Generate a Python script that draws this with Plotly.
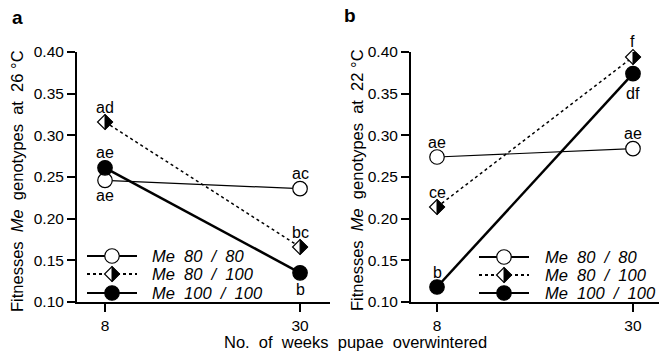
import plotly.graph_objects as go

weeks = [8, 30]
x_ticklabels = ["8", "30"]
y_ticks = [0.10, 0.15, 0.20, 0.25, 0.30, 0.35, 0.40]

series_names = ["Me  80  /  80", "Me  80  /  100", "Me  100  /  100"]

# Panel a (26 °C)
a_80_80 = [0.246, 0.236]
a_80_100 = [0.316, 0.166]
a_100_100 = [0.261, 0.135]
a_lbl_80_80 = ["ae", "ac"]
a_lbl_80_100 = ["ad", "bc"]
a_lbl_100_100 = ["ae", "b"]
a_pos_80_80 = [-1, 1]      # -1 below, 1 above
a_pos_80_100 = [1, 1]
a_pos_100_100 = [1, -1.1]

# Panel b (22 °C)
b_80_80 = [0.274, 0.284]
b_80_100 = [0.214, 0.394]
b_100_100 = [0.118, 0.374]
b_lbl_80_80 = ["ae", "ae"]
b_lbl_80_100 = ["ce", "f"]
b_lbl_100_100 = ["b", "df"]
b_pos_80_80 = [1, 1]
b_pos_80_100 = [1, 1]
b_pos_100_100 = [1, -1.3]

FONT = "Liberation Sans, Arial, Helvetica, sans-serif"
W, H = 659, 352
CIRC = 14.5
DIAM = 11.5
RD = 1.3 * DIAM / 2

line_styles = [dict(color="black", width=1.2),
               dict(color="black", width=1.5, dash="3px,3px"),
               dict(color="black", width=2.5)]
marker_styles = [dict(symbol="circle", size=CIRC, color="white", line=dict(color="black", width=1.2)),
                 dict(symbol="diamond", size=DIAM, color="white", line=dict(color="black", width=1.2)),
                 dict(symbol="circle", size=CIRC, color="black", line=dict(color="black", width=1.2))]

fig = go.Figure()

panels = [
    ("x", "y", [a_80_80, a_80_100, a_100_100],
     [a_lbl_80_80, a_lbl_80_100, a_lbl_100_100], [a_pos_80_80, a_pos_80_100, a_pos_100_100]),
    ("x2", "y2", [b_80_80, b_80_100, b_100_100],
     [b_lbl_80_80, b_lbl_80_100, b_lbl_100_100], [b_pos_80_80, b_pos_80_100, b_pos_100_100]),
]

annotations = []
shapes = []


def half_diamond(xref, yref, xv, yv):
    return dict(type="path", xref=xref, yref=yref, xsizemode="pixel", ysizemode="pixel",
                xanchor=xv, yanchor=yv, path=f"M0,{-RD} L{RD},0 L0,{RD} Z",
                fillcolor="black", line=dict(color="black", width=1))


for xa, ya, vals, lbls, poss in panels:
    for name, v, ls, ms in zip(series_names, vals, line_styles, marker_styles):
        fig.add_trace(go.Scatter(x=weeks, y=v, mode="lines+markers", name=name,
                                 xaxis=xa, yaxis=ya, cliponaxis=False, showlegend=False,
                                 line=ls, marker=ms))
    for xv, yv in zip(weeks, vals[1]):
        shapes.append(half_diamond(xa, ya, xv, yv))
    for v, lb, ps in zip(vals, lbls, poss):
        for xv, yv, t, p in zip(weeks, v, lb, ps):
            annotations.append(dict(x=xv, y=yv, xref=xa, yref=ya, text=t, showarrow=False,
                                    yshift=15 * p, font=dict(size=16, family=FONT, color="black")))

# hand-drawn keys (legend) inside each panel
legend_specs = [
    dict(x0=87, x1=137, xm=112, xt=150, rows=[256, 274, 293]),
    dict(x0=479, x1=529, xm=504, xt=543, rows=[257, 275, 293]),
]
key_line_styles = [dict(color="black", width=1.8),
                   dict(color="black", width=1.8, dash="3px,3px"),
                   dict(color="black", width=1.8)]
for spec in legend_specs:
    for i, name in enumerate(series_names):
        ry = 1 - spec["rows"][i] / H
        shapes.append(dict(type="line", xref="paper", yref="paper", x0=spec["x0"] / W, x1=spec["x1"] / W,
                           y0=ry, y1=ry, line=key_line_styles[i], layer="above"))
        xm = spec["xm"] / W
        if i == 1:
            shapes.append(dict(type="path", xref="paper", yref="paper", xsizemode="pixel", ysizemode="pixel",
                               xanchor=xm, yanchor=ry,
                               path=f"M0,{-RD} L{RD},0 L0,{RD} L{-RD},0 Z",
                               fillcolor="white", line=dict(color="black", width=1.2), layer="above"))
            shapes.append(dict(type="path", xref="paper", yref="paper", xsizemode="pixel", ysizemode="pixel",
                               xanchor=xm, yanchor=ry, path=f"M0,{-RD} L{RD},0 L0,{RD} Z",
                               fillcolor="black", line=dict(color="black", width=1), layer="above"))
        else:
            r = CIRC / 2
            shapes.append(dict(type="circle", xref="paper", yref="paper", xsizemode="pixel", ysizemode="pixel",
                               xanchor=xm, yanchor=ry, x0=-r, x1=r, y0=-r, y1=r,
                               fillcolor="white" if i == 0 else "black",
                               line=dict(color="black", width=1.2), layer="above"))
        annotations.append(dict(text=f"<i>{name}</i>", x=spec["xt"] / W, y=ry, xref="paper", yref="paper",
                                xanchor="left", yanchor="middle", showarrow=False,
                                font=dict(size=16.5, family=FONT, color="black")))

axis_common = dict(showline=True, linewidth=2, linecolor="black", ticks="outside",
                   ticklen=8, tickwidth=2, tickcolor="black", showgrid=False, zeroline=False,
                   automargin=False, tickfont=dict(size=15.5, family=FONT, color="black"))

fig.update_layout(
    width=W, height=H, margin=dict(l=0, r=0, t=0, b=0, autoexpand=False),
    paper_bgcolor="white", plot_bgcolor="white",
    font=dict(family=FONT, size=15.5, color="black"),
    showlegend=False,
    xaxis=dict(domain=[77 / W, 330 / W], range=[4.84, 33.38], tickvals=weeks, ticktext=x_ticklabels,
               anchor="y", **axis_common),
    yaxis=dict(domain=[50 / H, 300 / H], range=[0.10, 0.40], tickvals=y_ticks, tickformat=".2f",
               anchor="x", **axis_common),
    xaxis2=dict(domain=[411 / W, 1.0], range=[5.08, 32.92], tickvals=weeks, ticktext=x_ticklabels,
                anchor="y2", **axis_common),
    yaxis2=dict(domain=[50 / H, 300 / H], range=[0.10, 0.40], tickvals=y_ticks, tickformat=".2f",
                anchor="x2", **axis_common),
    annotations=annotations + [
        dict(text="Fitnesses  <i>Me</i>  genotypes  at  26 °C", x=17 / W, y=1 - 181 / H, xref="paper",
             yref="paper", textangle=-90, xanchor="center", yanchor="middle", showarrow=False,
             font=dict(size=16.5, family=FONT)),
        dict(text="Fitnesses  <i>Me</i>  genotypes  at  22 °C", x=357 / W, y=1 - 180 / H, xref="paper",
             yref="paper", textangle=-90, xanchor="center", yanchor="middle", showarrow=False,
             font=dict(size=16.5, family=FONT)),
        dict(text="<b>a</b>", x=17 / W, y=1 - 17 / H, xref="paper", yref="paper", xanchor="center",
             yanchor="middle", showarrow=False, font=dict(size=19, family=FONT)),
        dict(text="<b>b</b>", x=350 / W, y=1 - 16 / H, xref="paper", yref="paper", xanchor="center",
             yanchor="middle", showarrow=False, font=dict(size=19, family=FONT)),
        dict(text="No.  of  weeks  pupae  overwintered", x=356 / W, y=1 - 342 / H, xref="paper",
             yref="paper", xanchor="center", yanchor="middle", showarrow=False,
             font=dict(size=16.5, family=FONT)),
    ],
    shapes=shapes,
)

fig.write_html("out.html", config={"displayModeBar": False},
               post_script="document.body.style.margin='0px';document.body.style.overflow='hidden';")
